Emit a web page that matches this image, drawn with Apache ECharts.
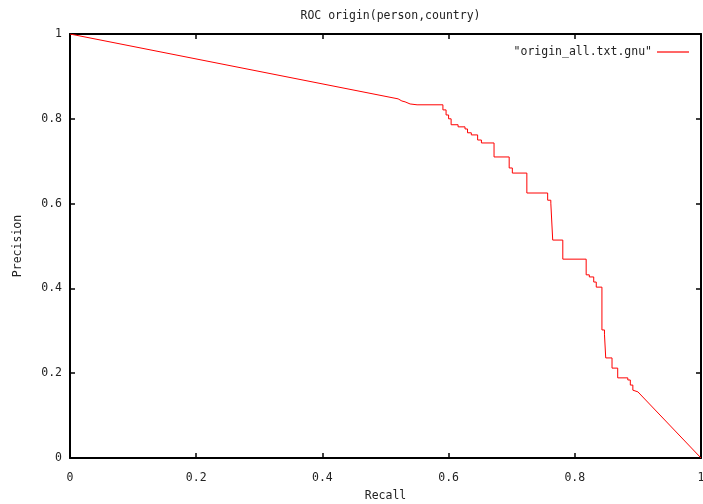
<!DOCTYPE html>
<html>
<head>
<meta charset="utf-8">
<script src="https://cdn.jsdelivr.net/npm/echarts@6/dist/echarts.min.js"></script>
<style>html,body{margin:0;padding:0;background:#fff}#c{width:703px;height:504px}</style>
</head>
<body>
<div id="c"></div>
<script>
const titleText = 'ROC origin(person,country)';
const seriesName = '"origin_all.txt.gnu"';
const xLabel = 'Recall';
const yLabel = 'Precision';
const recall = [0, 0.520, 0.523, 0.526, 0.531, 0.534, 0.539, 0.550, 0.591, 0.591, 0.596, 0.596, 0.600, 0.600, 0.604, 0.604, 0.615, 0.615, 0.626, 0.626, 0.630, 0.630, 0.636, 0.636, 0.646, 0.646, 0.652, 0.652, 0.672, 0.672, 0.696, 0.696, 0.701, 0.701, 0.724, 0.724, 0.757, 0.757, 0.762, 0.762, 0.765, 0.765, 0.781, 0.781, 0.818, 0.818, 0.823, 0.823, 0.830, 0.830, 0.834, 0.834, 0.843, 0.843, 0.847, 0.847, 0.849, 0.849, 0.859, 0.859, 0.868, 0.868, 0.884, 0.884, 0.888, 0.888, 0.892, 0.892, 0.900, 1.0];
const precision = [1.0, 0.847, 0.845, 0.842, 0.840, 0.836, 0.835, 0.833, 0.833, 0.821, 0.821, 0.809, 0.809, 0.800, 0.800, 0.786, 0.786, 0.781, 0.781, 0.776, 0.776, 0.767, 0.767, 0.762, 0.762, 0.750, 0.750, 0.743, 0.743, 0.710, 0.710, 0.684, 0.684, 0.672, 0.672, 0.625, 0.625, 0.608, 0.608, 0.601, 0.601, 0.514, 0.514, 0.469, 0.469, 0.432, 0.432, 0.427, 0.427, 0.415, 0.415, 0.403, 0.403, 0.302, 0.302, 0.292, 0.292, 0.236, 0.236, 0.212, 0.212, 0.189, 0.189, 0.184, 0.184, 0.172, 0.172, 0.160, 0.156, 0.0];
const tickValues = [0, 0.2, 0.4, 0.6, 0.8, 1];

const font = 'DejaVu Sans Mono';
const fmt = v => (Math.round(v * 10) / 10).toString();
const chart = echarts.init(document.getElementById('c'), null, {renderer: 'canvas'});
const axisBase = {
  type: 'value', min: 0, max: 1, interval: 0.2,
  axisLine: {show: true, onZero: false, lineStyle: {color: '#000', width: 2}},
  axisTick: {show: true, inside: true, length: 5, lineStyle: {color: '#000', width: 1.5}},
  splitLine: {show: false},
  axisLabel: {show: true, color: '#222', fontFamily: font, fontSize: 11.5, formatter: fmt}
};
chart.setOption({
  animation: false,
  backgroundColor: '#fff',
  title: {text: titleText, left: 385.5, textAlign: 'center', top: 5,
    textStyle: {fontFamily: font, fontSize: 11.5, fontWeight: 'normal', color: '#222'}},
  legend: {right: 9, top: 41, align: 'right', itemWidth: 32, itemHeight: 1.2, icon: 'rect', itemGap: 6,
    textStyle: {fontFamily: font, fontSize: 11.5, color: '#222', padding: [0, 0, 0, 0]},
    data: [{name: seriesName, icon: 'rect', itemStyle: {color: '#ff0000'}}]},
  grid: {left: 70, right: 2, top: 34, bottom: 46, containLabel: false, outerBoundsMode: 'none'},
  xAxis: [
    Object.assign({}, axisBase, {position: 'bottom', name: xLabel, nameLocation: 'middle', nameGap: 32,
      nameTextStyle: {fontFamily: font, fontSize: 11.5, color: '#222'},
      axisLabel: Object.assign({}, axisBase.axisLabel, {margin: 14})}),
    Object.assign({}, axisBase, {position: 'top', axisLabel: {show: false}})
  ],
  yAxis: [
    Object.assign({}, axisBase, {position: 'left', name: yLabel, nameLocation: 'middle', nameGap: 46,
      nameTextStyle: {fontFamily: font, fontSize: 11.5, color: '#222'},
      axisLabel: Object.assign({}, axisBase.axisLabel, {margin: 8})}),
    Object.assign({}, axisBase, {position: 'right', axisLabel: {show: false}})
  ],
  series: [{
    name: seriesName, type: 'line', xAxisIndex: 0, yAxisIndex: 0,
    data: recall.map((r, i) => [r, precision[i]]),
    showSymbol: false, symbol: 'none',
    lineStyle: {color: '#ff0000', width: 1},
    itemStyle: {color: '#ff0000'}
  }]
});
</script>
</body>
</html>
